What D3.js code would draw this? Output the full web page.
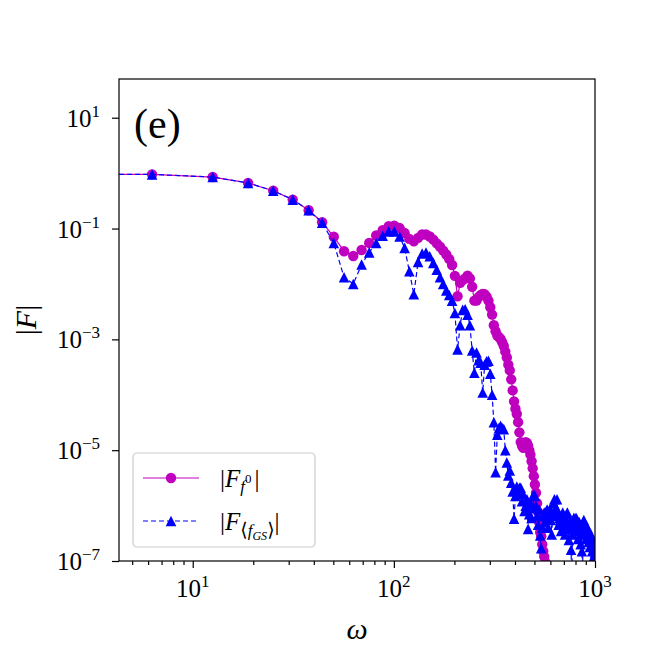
<!DOCTYPE html>
<html lang="en">
  <head>
    <meta charset="utf-8" />
    <title>|F| versus omega, panel (e)</title>
    <script src="https://d3js.org/d3.v7.min.js"></script>
    <style type="text/css">
      body {
        margin: 0;
        background: #fff;
      }
      .it {
        font-style: italic;
      }
    </style>
  </head>
  <body>
    <script type="text/javascript">
      //Frequencies (first one is zero, it lands off the log axis like in matplotlib)
      var omega = [
        0, 6.28, 12.57, 18.85, 25.13, 31.42, 37.7, 43.98, 50.27, 56.55, 62.83,
        69.12, 75.4, 81.68, 87.96, 94.25, 100.53, 106.81, 113.1, 119.38, 125.66,
        131.95, 138.23, 144.51, 150.8, 157.08, 163.36, 169.65, 175.93, 182.21, 188.5,
        194.78, 201.06, 207.35, 213.63, 219.91, 226.19, 232.48, 238.76, 245.04, 251.33,
        257.61, 263.89, 270.18, 276.46, 282.74, 289.03, 295.31, 301.59, 307.88, 314.16,
        320.44, 326.73, 333.01, 339.29, 345.58, 351.86, 358.14, 364.42, 370.71, 376.99,
        383.27, 389.56, 395.84, 402.12, 408.41, 414.69, 420.97, 427.26, 433.54, 439.82,
        446.11, 452.39, 458.67, 464.96, 471.24, 477.52, 483.81, 490.09, 496.37, 502.65,
        508.94, 515.22, 521.5, 527.79, 534.07, 540.35, 546.64, 552.92, 559.2, 565.49,
        571.77, 578.05, 584.34, 590.62, 596.9, 603.19, 609.47, 615.75, 622.04, 628.32,
        634.6, 640.88, 647.17, 653.45, 659.73, 666.02, 672.3, 678.58, 684.87, 691.15,
        697.43, 703.72, 710.0, 716.28, 722.57, 728.85, 735.13, 741.42, 747.7, 753.98,
        760.27, 766.55, 772.83, 779.11, 785.4, 791.68, 797.96, 804.25, 810.53, 816.81,
        823.1, 829.38, 835.66, 841.95, 848.23, 854.51, 860.8, 867.08, 873.36, 879.65,
        885.93, 892.21, 898.5, 904.78, 911.06, 917.35, 923.63, 929.91, 936.19, 942.48,
        948.76, 955.04, 961.33, 967.61, 973.89, 980.18, 986.46, 992.74, 999.03
      ];

      //|F_{f^0}|
      var fF0 = [
        0.97, 0.95, 0.85, 0.665, 0.48, 0.333, 0.214, 0.13, 0.071, 0.039, 0.032,
        0.041, 0.055, 0.075, 0.093, 0.11, 0.113, 0.102, 0.083, 0.065, 0.059,
        0.068, 0.078, 0.078, 0.072, 0.063, 0.054, 0.047, 0.04, 0.034, 0.028,
        0.022, 0.014, 0.006, 0.0105, 0.0117, 0.0126, 0.0141, 0.0126, 0.0089, 0.005,
        0.005, 0.0058, 0.0063, 0.0066, 0.0065, 0.0059, 0.005, 0.0038, 0.0028, 0.0018,
        0.0014, 0.00117, 0.0011, 0.00102, 8.9e-4, 7.6e-4, 6.0e-4, 4.7e-4, 3.5e-4, 2.75e-4,
        1.9e-4, 1.2e-4, 7.6e-5, 5.6e-5, 4.5e-5, 3.2e-5, 2.1e-5, 1.4e-5, 1.2e-5, 1.1e-5,
        1.3e-5, 1.4e-5, 1.35e-5, 1.2e-5, 1.0e-5, 8.3e-6, 6.3e-6, 4.7e-6, 3.4e-6, 2.4e-6,
        1.7e-6, 1.1e-6, 7.6e-7, 5.0e-7, 3.3e-7, 2.8e-7, 2.0e-7, 1.5e-7, 1.2e-7, 9.5e-8,
        6.3e-8, 3.2e-8, 1.5e-8
      ];

      //|F_<f_GS>|
      var fGS = [
        0.97, 0.95, 0.85, 0.665, 0.48, 0.333, 0.214, 0.128, 0.055, 0.0132, 0.01,
        0.0224, 0.0372, 0.055, 0.074, 0.089, 0.089, 0.072, 0.0447, 0.017, 0.0065,
        0.025, 0.0355, 0.037, 0.0316, 0.024, 0.018, 0.0132, 0.01, 0.0076, 0.0063,
        0.005, 0.003, 6.6e-4, 1.8e-3, 3.4e-3, 3.5e-3, 2.8e-3, 1.8e-3, 6.3e-4, 2.5e-4,
        5.8e-4, 4.2e-4, 3.8e-4, 1.1e-4, 3.5e-4, 4.0e-4, 4.1e-4, 2.4e-4, 1.0e-4, 3.2e-5,
        4.0e-6, 1.9e-5, 2.5e-5, 2.75e-5, 2.5e-5, 2.4e-5, 1.0e-5, 6.0e-6, 3.5e-6, 4.3e-6,
        2.6e-6, 1.8e-6, 5.8e-7, 1.5e-6, 2.2e-6, 1.7e-6, 2.1e-6, 2.1e-6, 1.2e-6, 1.6e-6,
        8.0e-7, 1.0e-6, 1.3e-6, 3.8e-7, 7.0e-7, 1.1e-6, 6.0e-7, 9.0e-7, 1.6e-6, 1.5e-6,
        1.0e-6, 6.5e-7, 4.5e-7, 8.5e-7, 2.9e-7, 1.7e-7, 4.0e-7, 6.5e-7, 7.5e-7, 5.0e-7,
        7.8e-7, 8.5e-7, 4.0e-7, 6.0e-7, 8.7e-7, 5.5e-7, 3.0e-7, 6.5e-7, 1.1e-6, 1.3e-6,
        7.0e-7, 9.0e-7, 1.3e-6, 8.0e-7, 4.5e-7, 6.0e-7, 5.5e-7, 3.5e-7, 6.5e-7, 7.5e-7,
        4.0e-7, 6.0e-7, 3.0e-7, 5.0e-7, 7.0e-7, 7.5e-7, 4.5e-7, 2.4e-7, 5.0e-7, 3.8e-7,
        1.6e-7, 4.0e-8, 3.0e-7, 5.0e-7, 6.0e-7, 4.0e-7, 5.5e-7, 6.0e-7, 5.8e-7, 3.5e-7,
        2.5e-7, 4.5e-7, 5.0e-7, 3.0e-7, 2.0e-7, 4.0e-7, 1.5e-7, 6.0e-8, 3.5e-7, 5.5e-7,
        5.0e-7, 3.5e-7, 4.5e-7, 2.5e-7, 3.0e-7, 4.0e-7, 3.6e-7, 2.2e-7, 3.0e-7, 1.8e-7,
        2.5e-7, 3.0e-7, 1.9e-7, 1.5e-7, 2.5e-7, 2.0e-7, 1.2e-7, 1.6e-7, 1.4e-7
      ];

      //Ticks
      var xMajor = [10, 100, 1000];
      var xMajorExp = ["1", "2", "3"];
      var xMinor = [5, 6, 7, 8, 9, 20, 30, 40, 50, 60, 70, 80, 90, 200, 300, 400, 500, 600, 700, 800, 900];
      var yMajor = [1e1, 1e-1, 1e-3, 1e-5, 1e-7];
      var yMajorExp = ["1", "\u22121", "\u22123", "\u22125", "\u22127"];

      var w = 660;
      var h = 660;
      var pLeft = 119, pRight = 595, pTop = 79, pBottom = 561;
      var serif = "Liberation Serif, DejaVu Serif, serif";

      var xScale = d3.scaleLog().domain([4.3, 1000]).range([pLeft, pRight]);
      var yScale = d3.scaleLog().domain([1e-7, 50]).range([pBottom, pTop]);

      //zero frequency goes far off to the left
      function px(v) {
        return v > 0 ? xScale(v) : pLeft - 10000;
      }

      var svg = d3
        .select("body")
        .append("svg")
        .attr("width", w)
        .attr("height", h)
        .attr("font-family", serif);

      svg
        .append("defs")
        .append("clipPath")
        .attr("id", "plotclip")
        .append("rect")
        .attr("x", pLeft)
        .attr("y", pTop)
        .attr("width", pRight - pLeft)
        .attr("height", pBottom - pTop);

      var plot = svg.append("g").attr("clip-path", "url(#plotclip)");

      var magData = fF0.map(function (v, i) {
        return { w: omega[i], v: v };
      });
      var blueData = fGS.map(function (v, i) {
        return { w: omega[i], v: v };
      });

      var line = d3
        .line()
        .x(function (d) {
          return px(d.w);
        })
        .y(function (d) {
          return yScale(d.v);
        });

      //magenta: solid line with circles
      plot
        .append("path")
        .datum(magData)
        .attr("d", line)
        .attr("fill", "none")
        .attr("stroke", "#bf00bf")
        .attr("stroke-width", 1.2);

      plot
        .selectAll("circle.mag")
        .data(magData.filter(function (d) { return d.w > 0; }))
        .enter()
        .append("circle")
        .attr("class", "mag")
        .attr("cx", function (d) { return px(d.w); })
        .attr("cy", function (d) { return yScale(d.v); })
        .attr("r", 5.2)
        .attr("fill", "#bf00bf");

      //blue: dashed line with triangles
      plot
        .append("path")
        .datum(blueData)
        .attr("d", line)
        .attr("fill", "none")
        .attr("stroke", "#0000ff")
        .attr("stroke-width", 1.2)
        .attr("stroke-dasharray", "5,3");

      var tri = "M0,-5.3L5.3,5.3L-5.3,5.3Z";
      plot
        .selectAll("path.tri")
        .data(blueData.filter(function (d) { return d.w > 0; }))
        .enter()
        .append("path")
        .attr("class", "tri")
        .attr("d", tri)
        .attr("transform", function (d) {
          return "translate(" + px(d.w) + "," + yScale(d.v) + ")";
        })
        .attr("fill", "#0000ff");

      //Axes frame
      svg
        .append("rect")
        .attr("x", pLeft)
        .attr("y", pTop)
        .attr("width", pRight - pLeft)
        .attr("height", pBottom - pTop)
        .attr("fill", "none")
        .attr("stroke", "#000")
        .attr("stroke-width", 1.2);

      //x ticks
      var xMaj = svg
        .append("g")
        .attr("transform", "translate(0," + pBottom + ")")
        .call(d3.axisBottom(xScale).tickValues(xMajor).tickSize(7).tickFormat(function () { return ""; }));
      var xMin = svg
        .append("g")
        .attr("transform", "translate(0," + pBottom + ")")
        .call(d3.axisBottom(xScale).tickValues(xMinor).tickSize(4).tickFormat(function () { return ""; }));

      //y ticks
      var yMaj = svg
        .append("g")
        .attr("transform", "translate(" + pLeft + ",0)")
        .call(d3.axisLeft(yScale).tickValues(yMajor).tickSize(7).tickFormat(function () { return ""; }));

      [xMaj, xMin, yMaj].forEach(function (g) {
        g.select(".domain").remove();
        g.selectAll(".tick line").attr("stroke", "#000").attr("stroke-width", 1.2);
      });

      //tick labels as 10^n
      xMajor.forEach(function (v, i) {
        var t = svg
          .append("text")
          .attr("x", xScale(v))
          .attr("y", pBottom + 36)
          .attr("text-anchor", "middle")
          .attr("font-family", serif)
          .attr("font-size", 25);
        t.append("tspan").text("10");
        t.append("tspan").attr("dy", -10).attr("font-size", 17).text(xMajorExp[i]);
      });

      yMajor.forEach(function (v, i) {
        var t = svg
          .append("text")
          .attr("x", pLeft - 19)
          .attr("y", yScale(v) + 9)
          .attr("text-anchor", "end")
          .attr("font-family", serif)
          .attr("font-size", 25);
        t.append("tspan").text("10");
        t.append("tspan").attr("dy", -10).attr("font-size", 17).text(yMajorExp[i]);
      });

      //axis labels
      svg
        .append("text")
        .attr("class", "it")
        .attr("x", (pLeft + pRight) / 2)
        .attr("y", 639)
        .attr("text-anchor", "middle")
        .attr("font-family", serif)
        .attr("font-size", 30)
        .text("\u03c9");

      var ylab = svg
        .append("text")
        .attr("transform", "translate(36," + (pTop + pBottom) / 2 + ") rotate(-90)")
        .attr("text-anchor", "middle")
        .attr("font-family", serif)
        .attr("font-size", 30);
      ylab.append("tspan").text("|");
      ylab.append("tspan").attr("class", "it").text("F");
      ylab.append("tspan").text("|");

      //panel tag
      svg
        .append("text")
        .attr("x", 134)
        .attr("y", 138)
        .attr("font-family", serif)
        .attr("font-size", 42)
        .text("(e)");

      //Legend
      var lg = svg.append("g");
      lg.append("rect")
        .attr("x", 133)
        .attr("y", 453)
        .attr("width", 182)
        .attr("height", 94)
        .attr("rx", 4)
        .attr("fill", "#fff")
        .attr("fill-opacity", 0.8)
        .attr("stroke", "#cccccc")
        .attr("stroke-width", 1.2);

      lg.append("line")
        .attr("x1", 143).attr("x2", 199).attr("y1", 478).attr("y2", 478)
        .attr("stroke", "#bf00bf").attr("stroke-width", 1.2);
      lg.append("circle").attr("cx", 171).attr("cy", 478).attr("r", 5.2).attr("fill", "#bf00bf");

      lg.append("line")
        .attr("x1", 143).attr("x2", 199).attr("y1", 521).attr("y2", 521)
        .attr("stroke", "#0000ff").attr("stroke-width", 1.2)
        .attr("stroke-dasharray", "5,3");
      lg.append("path").attr("d", tri).attr("transform", "translate(171,521)").attr("fill", "#0000ff");

      var l1 = lg.append("text").attr("x", 220).attr("y", 487).attr("font-family", serif).attr("font-size", 25);
      l1.append("tspan").text("|");
      l1.append("tspan").attr("class", "it").text("F");
      l1.append("tspan").attr("class", "it").attr("dy", 5).attr("font-size", 17).text("f");
      l1.append("tspan").attr("dy", -9).attr("font-size", 13).text("0");
      l1.append("tspan").attr("dy", 4).attr("dx", 3).text("|");

      var l2 = lg.append("text").attr("x", 220).attr("y", 530).attr("font-family", serif).attr("font-size", 25);
      l2.append("tspan").text("|");
      l2.append("tspan").attr("class", "it").text("F");
      l2.append("tspan").attr("dy", 6).attr("font-size", 19).text("\u27e8");
      l2.append("tspan").attr("class", "it").attr("font-size", 17).text("f");
      l2.append("tspan").attr("class", "it").attr("dy", 4).attr("font-size", 12).text("GS");
      l2.append("tspan").attr("dy", -4).attr("font-size", 19).text("\u27e9");
      l2.append("tspan").attr("dy", -6).text("|");
    </script>
  </body>
</html>
